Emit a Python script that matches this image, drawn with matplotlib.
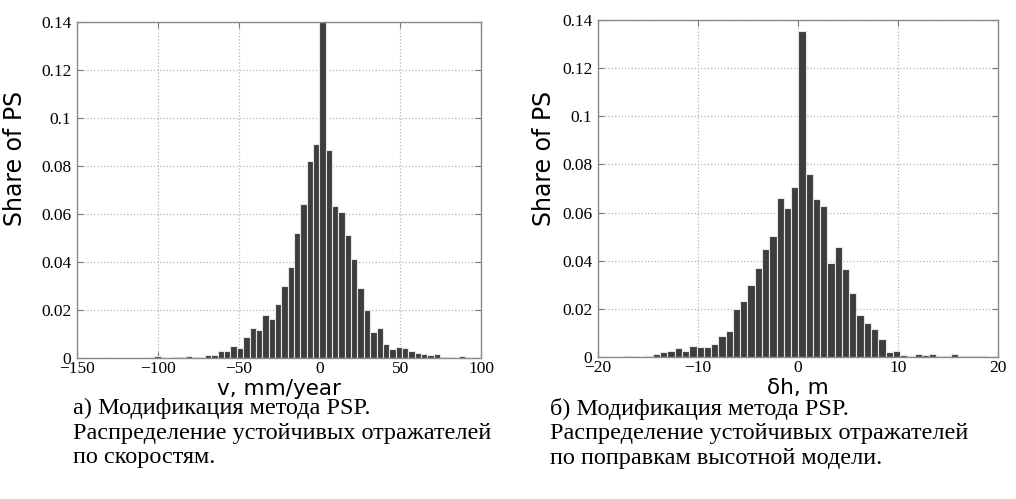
import numpy as np
import matplotlib.pyplot as plt

# Гистограмма скоростей (левый график), ширина бина ~3.93 мм/год
v_bin_width = 3.93
v_first_bin = -27          # номер первого бина относительно нуля
v_share = [0.0002, 0.0008, 0.0002, 0.0001, 0.0004, 0.0006, 0.0007, 0.0006,
           0.0005, 0.0011, 0.0013, 0.0029, 0.0029, 0.0049, 0.0043, 0.0088,
           0.0126, 0.0117, 0.0178, 0.0161, 0.0226, 0.0300, 0.0380, 0.0520,
           0.0640, 0.0820, 0.0890,
           0.1400, 0.0868, 0.0635, 0.0607, 0.0512, 0.0412, 0.0290, 0.0198,
           0.0110, 0.0127, 0.0059, 0.0036, 0.0045, 0.0040, 0.0030, 0.0022,
           0.0015, 0.0013, 0.0016, 0.0006, 0.0006, 0.0002, 0.0008]

# Гистограмма поправок высот (правый график), ширина бина ~0.727 м
h_bin_width = 0.727
h_first_edge = 0.03
h_first_bin = -24
h_share = [0.0004, 0.0004, 0.0000, 0.0004, 0.0012, 0.0019, 0.0025, 0.0038,
           0.0025, 0.0044, 0.0043, 0.0043, 0.0054, 0.0089, 0.0108, 0.0199,
           0.0234, 0.0299, 0.0370, 0.0450, 0.0503, 0.0662, 0.0618, 0.0707,
           0.1356, 0.0760, 0.0657, 0.0627, 0.0389, 0.0456, 0.0365, 0.0265,
           0.0175, 0.0143, 0.0118, 0.0073, 0.0020, 0.0026, 0.0008, 0.0006,
           0.0012, 0.0007, 0.0012, 0.0006, 0.0004, 0.0011, 0.0003, 0.0004,
           0.0004, 0.0004]

y_ticks = [0, 0.02, 0.04, 0.06, 0.08, 0.1, 0.12, 0.14]
v_ticks = [-150, -100, -50, 0, 50, 100]
h_ticks = [-20, -10, 0, 10, 20]

caption_a = "а) Модификация метода PSP.\nРаспределение устойчивых отражателей\nпо скоростям."
caption_b = "б) Модификация метода PSP.\nРаспределение устойчивых отражателей\nпо поправкам высотной модели."

bar_color = '#3d3d3d'
serif = 'Liberation Serif'


def style_axes(ax, xlim, xticks):
    ax.set_xlim(xlim)
    ax.set_ylim(0, 0.14)
    ax.set_xticks(xticks)
    ax.set_yticks(y_ticks)
    ax.set_yticklabels(['%g' % t for t in y_ticks])
    ax.grid(True, linestyle=':', color='#b5b5b5', linewidth=0.9)
    ax.set_axisbelow(True)
    ax.tick_params(direction='in', top=True, right=True, length=4,
                   color='#777777', labelsize=12.5)
    ax.tick_params(axis='x', pad=2)
    ax.tick_params(axis='y', pad=4)
    for lbl in ax.get_xticklabels() + ax.get_yticklabels():
        lbl.set_family(serif)
    for s in ax.spines.values():
        s.set_color('#8a8a8a')
        s.set_linewidth(1.0)
    ax.set_ylabel('Share of PS', fontsize=17, family='DejaVu Sans')


fig = plt.figure(figsize=(10.16, 4.99), dpi=100)

# левый график
ax1 = fig.add_axes([0.0758, 0.2826, 0.3976, 0.6733])
v_edges = v_bin_width * (v_first_bin + np.arange(len(v_share)))
ax1.bar(v_edges, v_share, width=v_bin_width, align='edge',
        color=bar_color, edgecolor='#e6e6e6', linewidth=0.8)
style_axes(ax1, (-150, 100), v_ticks)
ax1.set_xlabel('v, mm/year', fontsize=15.5, family='DejaVu Sans')
ax1.xaxis.set_label_coords(0.5, -0.062)
ax1.yaxis.set_label_coords(-0.125, 0.595)

# правый график
ax2 = fig.add_axes([0.5886, 0.2846, 0.3937, 0.6754])
h_edges = h_first_edge + h_bin_width * (h_first_bin + np.arange(len(h_share)))
ax2.bar(h_edges, h_share, width=h_bin_width, align='edge',
        color=bar_color, edgecolor='#e6e6e6', linewidth=0.8)
style_axes(ax2, (-20, 20), h_ticks)
ax2.set_xlabel('δh, m', fontsize=15.5, family='DejaVu Sans')
ax2.xaxis.set_label_coords(0.5, -0.062)
ax2.yaxis.set_label_coords(-0.105, 0.59)

# подписи под графиками
fig.text(0.072, 0.202, caption_a, family=serif, fontsize=17.5,
         va='top', ha='left', linespacing=1.2)
fig.text(0.541, 0.202, caption_b, family=serif, fontsize=17.5,
         va='top', ha='left', linespacing=1.2)

fig.savefig('out.png', dpi=100)
